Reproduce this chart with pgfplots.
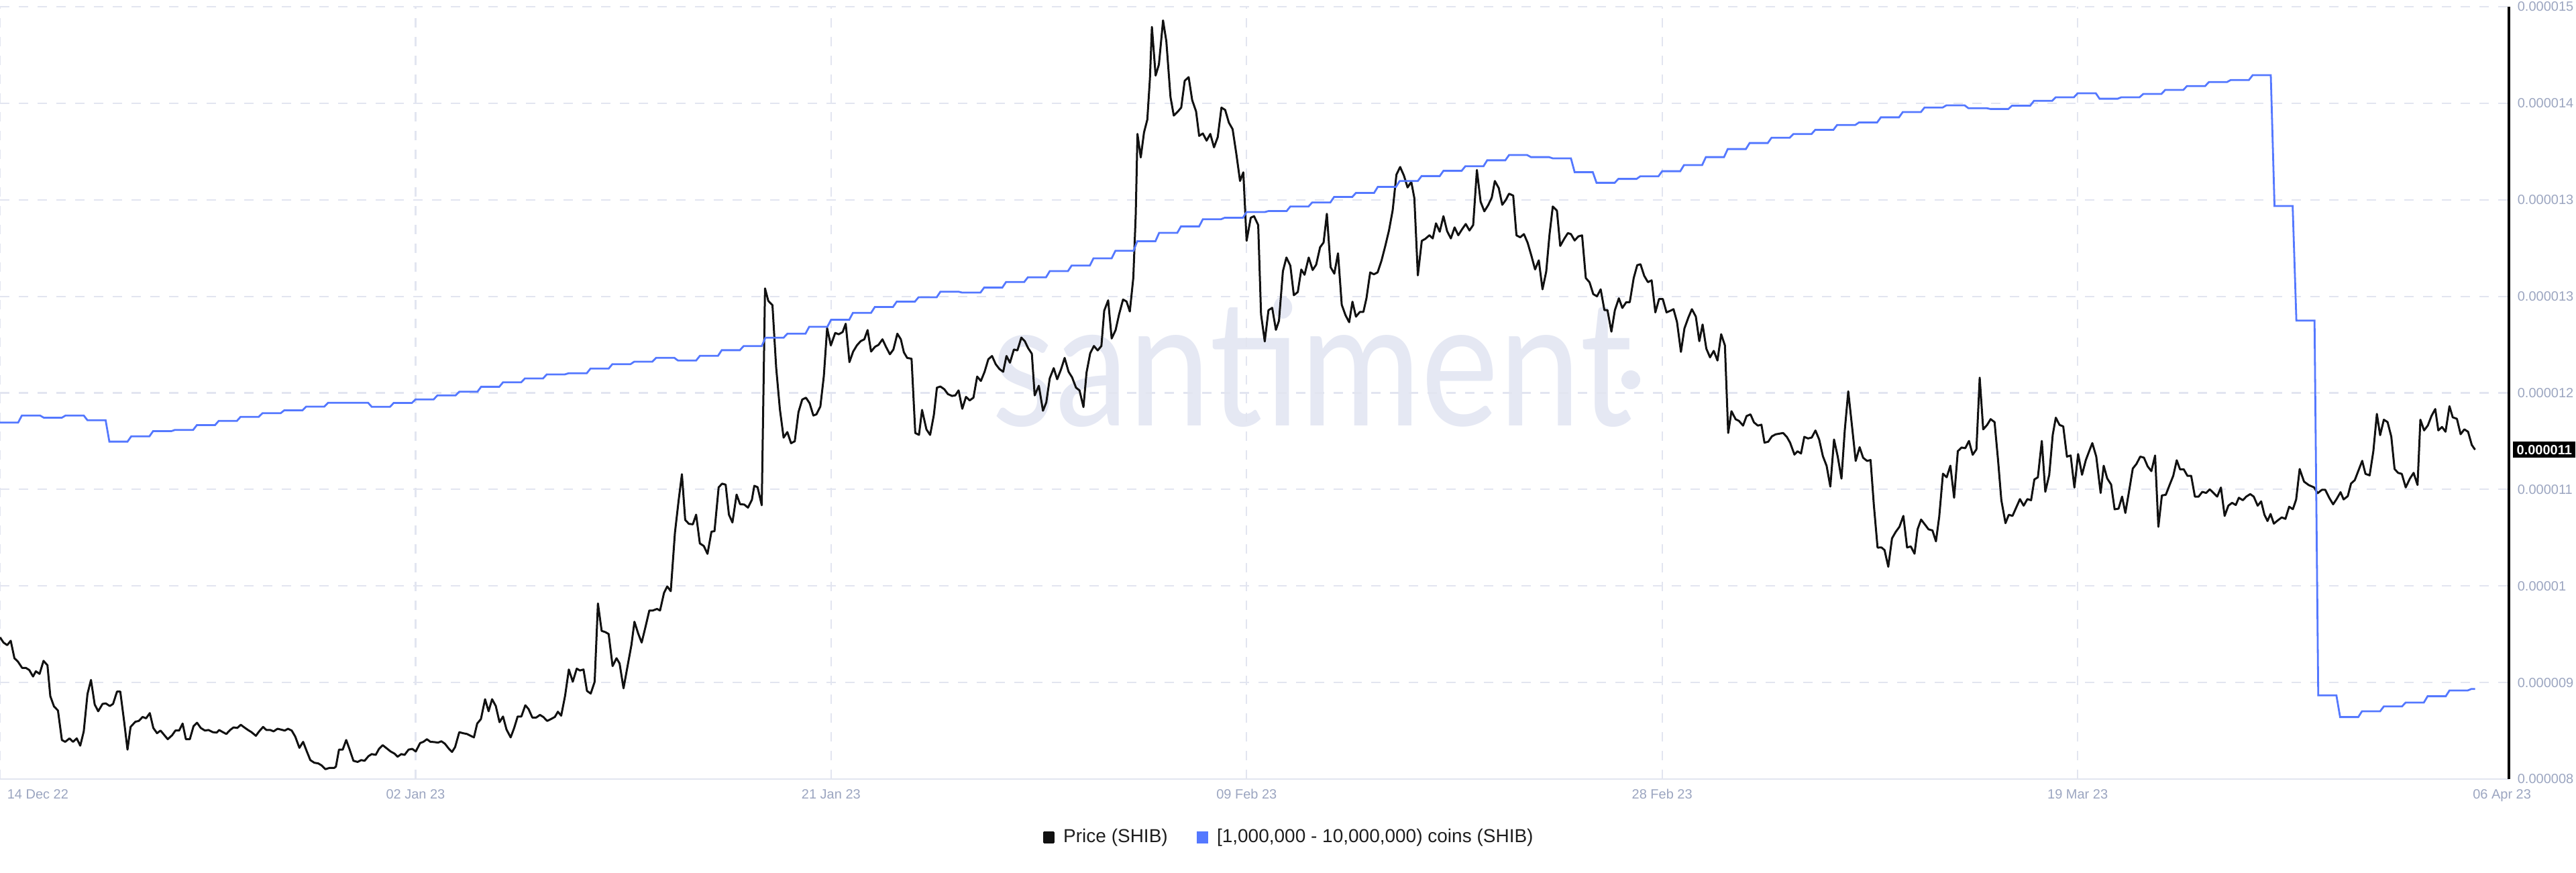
\documentclass[border=0pt]{standalone}
\usepackage{pgfplots}
\pgfplotsset{compat=1.18}
\usepackage{fontspec}
\setmainfont{Liberation Sans}
\newfontfamily\wmfont{Lato}
\definecolor{pricecol}{RGB}{17,17,17}
\definecolor{holdcol}{RGB}{84,120,255}
\definecolor{gridcol}{RGB}{226,229,240}
\definecolor{tickcol}{RGB}{155,165,192}
\definecolor{wmcol}{RGB}{229,232,243}
\definecolor{legtext}{RGB}{30,30,30}
\begin{document}
\begin{tikzpicture}
\path[use as bounding box] (0pt,0pt) rectangle (960pt,325pt);
% watermark (behind the series)
\node[anchor=base west, inner sep=0pt, text=wmcol, xscale=0.835,
      font=\wmfont\fontsize{65.6}{70}\selectfont] at (369.5pt,166.5pt) {santiment};
\fill[wmcol] (607.75pt,183.5pt) circle (3.5pt);
\begin{axis}[
  at={(0pt,34.75pt)}, anchor=south west,
  width=935pt, height=287.75pt, scale only axis,
  xmin=0, xmax=114.72, ymin=8.35, ymax=15.15,
  axis x line*=bottom, axis y line*=right,
  x axis line style={-, draw=gridcol, line width=0.6pt},
  y axis line style={-, draw=black, line width=1pt},
  major tick length=0pt, tick style={draw=none},
  xtick={0,19,38,57,76,95},
  xticklabels={,02 Jan 23,21 Jan 23,09 Feb 23,28 Feb 23,19 Mar 23},
  xticklabel style={anchor=base, inner sep=0pt, yshift=-7.4pt, text=tickcol, font=\fontsize{5}{6}\selectfont},
  ytick={8.35,9.2,10.05,10.9,11.75,12.6,13.45,14.3,15.15},
  yticklabels={0.000008,0.000009,0.00001,0.000011,0.000012,0.000013,0.000013,0.000014,0.000015},
  yticklabel style={anchor=west, inner sep=0pt, xshift=3pt, text=tickcol, font=\fontsize{5}{6}\selectfont},
  xmajorgrids, ymajorgrids,
  major grid style={draw=gridcol, dash pattern=on 3.5pt off 3.5pt, line width=0.55pt},
  clip=false,
  legend style={at={(0.5134,-0.0756)}, anchor=center, draw=none, fill=none,
    font=\fontsize{7}{8}\selectfont, text=legtext, legend columns=2,
    nodes={inner sep=0pt},
    /tikz/every odd column/.append style={column sep=3.2pt},
    /tikz/every even column/.append style={column sep=10.7pt}},
]
\addplot[pricecol, line width=0.75pt, no marks, line join=round,
  legend image code/.code={\fill[pricecol] (0pt,-1.85pt) rectangle (3.7pt,1.85pt);}]
coordinates {
(0.00,9.598)(0.16,9.552)(0.33,9.529)(0.49,9.568)(0.66,9.414)(0.82,9.384)(1.01,9.329)(1.18,9.329)(1.34,9.310)(1.51,9.253)(1.64,9.299)(1.81,9.276)(1.99,9.391)(2.17,9.352)(2.30,9.080)(2.47,8.989)(2.65,8.954)(2.83,8.694)(2.98,8.678)(3.18,8.708)(3.34,8.678)(3.51,8.708)(3.67,8.644)(3.83,8.770)(4.00,9.099)(4.16,9.223)(4.33,9.007)(4.49,8.947)(4.69,9.012)(4.84,9.016)(5.02,8.993)(5.17,9.012)(5.35,9.120)(5.50,9.120)(5.68,8.851)(5.83,8.609)(5.97,8.809)(6.19,8.855)(6.35,8.862)(6.52,8.897)(6.68,8.885)(6.85,8.931)(7.01,8.800)(7.18,8.754)(7.34,8.777)(7.50,8.740)(7.67,8.701)(7.87,8.736)(8.02,8.777)(8.19,8.777)(8.35,8.839)(8.50,8.701)(8.68,8.701)(8.85,8.816)(9.01,8.846)(9.18,8.800)(9.37,8.777)(9.53,8.782)(9.73,8.763)(9.91,8.759)(10.02,8.782)(10.19,8.763)(10.35,8.747)(10.52,8.782)(10.68,8.805)(10.85,8.800)(11.01,8.828)(11.17,8.805)(11.34,8.782)(11.50,8.763)(11.70,8.731)(11.85,8.770)(12.03,8.809)(12.18,8.782)(12.36,8.782)(12.51,8.770)(12.69,8.793)(12.84,8.786)(13.02,8.777)(13.17,8.793)(13.34,8.777)(13.50,8.724)(13.69,8.625)(13.86,8.678)(14.02,8.598)(14.19,8.517)(14.37,8.494)(14.55,8.488)(14.70,8.471)(14.88,8.437)(15.06,8.448)(15.28,8.448)(15.36,8.460)(15.50,8.609)(15.67,8.609)(15.83,8.694)(15.99,8.609)(16.16,8.511)(16.35,8.501)(16.52,8.517)(16.67,8.511)(16.85,8.552)(17.00,8.570)(17.18,8.563)
(17.33,8.616)(17.50,8.648)(17.68,8.621)(17.86,8.593)(18.03,8.575)(18.18,8.547)(18.35,8.570)(18.50,8.563)(18.68,8.609)(18.85,8.616)(19.01,8.593)(19.21,8.667)(19.36,8.678)(19.52,8.701)(19.68,8.678)(19.85,8.676)(20.03,8.671)(20.18,8.683)(20.34,8.662)(20.53,8.616)(20.67,8.589)(20.81,8.632)(21.00,8.763)(21.17,8.754)(21.35,8.747)(21.52,8.731)(21.67,8.717)(21.82,8.839)(21.99,8.878)(22.18,9.053)(22.34,8.947)(22.50,9.053)(22.67,8.993)(22.84,8.851)(23.00,8.901)(23.16,8.786)(23.35,8.717)(23.51,8.800)(23.67,8.901)(23.84,8.901)(24.02,9.000)(24.17,8.966)(24.34,8.892)(24.52,8.892)(24.69,8.915)(24.84,8.897)(25.02,8.862)(25.19,8.878)(25.37,8.897)(25.51,8.943)(25.66,8.908)(25.84,9.085)(26.01,9.315)(26.19,9.207)(26.37,9.322)(26.52,9.306)(26.68,9.315)(26.84,9.126)(27.01,9.103)(27.19,9.207)(27.34,9.896)(27.51,9.655)(27.69,9.643)(27.83,9.627)(28.01,9.345)(28.19,9.414)(28.33,9.368)(28.51,9.149)(28.68,9.329)(28.87,9.529)(29.01,9.735)(29.18,9.632)(29.34,9.552)(29.50,9.678)(29.69,9.834)(29.85,9.834)(30.04,9.848)(30.18,9.834)(30.36,9.988)(30.51,10.046)(30.67,10.004)(30.86,10.517)(31.03,10.804)(31.18,11.034)(31.33,10.632)(31.50,10.597)(31.68,10.593)(31.83,10.678)(32.00,10.425)(32.18,10.402)(32.35,10.333)(32.53,10.528)(32.67,10.533)(32.86,10.919)(33.02,10.951)(33.18,10.942)(33.33,10.678)(33.49,10.609)(33.68,10.855)(33.84,10.770)(34.03,10.767)(34.20,10.740)(34.38,10.809)
(34.49,10.932)(34.64,10.920)(34.83,10.761)(34.98,12.670)(35.13,12.560)(35.32,12.523)(35.49,11.972)(35.66,11.605)(35.83,11.356)(36.00,11.405)(36.17,11.307)(36.34,11.324)(36.51,11.581)(36.68,11.691)(36.85,11.708)(37.02,11.659)(37.19,11.551)(37.33,11.561)(37.51,11.630)(37.67,11.899)(37.82,12.320)(37.99,12.168)(38.19,12.278)(38.35,12.266)(38.53,12.286)(38.67,12.359)(38.84,12.021)(39.01,12.114)(39.18,12.168)(39.35,12.205)(39.52,12.222)(39.67,12.303)(39.83,12.114)(40.01,12.156)(40.17,12.173)(40.35,12.222)(40.51,12.156)(40.69,12.090)(40.85,12.132)(41.03,12.271)(41.19,12.222)(41.33,12.107)(41.48,12.058)(41.68,12.051)(41.85,11.397)(42.02,11.380)(42.16,11.600)(42.36,11.429)(42.53,11.380)(42.70,11.556)(42.84,11.796)(43.00,11.806)(43.18,11.782)(43.34,11.740)(43.53,11.723)(43.68,11.728)(43.83,11.772)(44.00,11.610)(44.17,11.715)(44.34,11.684)(44.51,11.708)(44.68,11.894)(44.85,11.855)(45.02,11.936)(45.19,12.046)(45.36,12.075)(45.53,12.002)(45.70,11.960)(45.87,11.936)(46.02,12.075)(46.18,12.016)(46.36,12.132)(46.52,12.124)(46.70,12.237)(46.86,12.205)(47.01,12.144)(47.18,12.095)(47.31,11.728)(47.50,11.813)(47.69,11.593)(47.84,11.666)(48.00,11.879)(48.18,11.968)(48.34,11.870)(48.52,11.960)(48.68,12.058)(48.86,11.936)(49.02,11.887)(49.20,11.796)(49.36,11.772)(49.54,11.625)(49.68,11.928)(49.85,12.100)(50.02,12.163)(50.19,12.124)(50.36,12.163)(50.49,12.474)(50.67,12.565)(50.83,12.229)(51.01,12.303)(51.17,12.442)(51.35,12.572)(51.51,12.555)(51.66,12.467)
(51.82,12.764)(51.93,13.317)(52.01,14.030)(52.16,13.823)(52.31,14.044)(52.46,14.156)(52.58,14.519)(52.67,14.972)(52.84,14.544)(52.99,14.641)(53.18,15.029)(53.33,14.846)(53.52,14.355)(53.67,14.192)(53.86,14.228)(54.01,14.262)(54.17,14.498)(54.35,14.530)(54.51,14.329)(54.69,14.228)(54.83,14.013)(55.00,14.034)(55.17,13.971)(55.34,14.030)(55.51,13.912)(55.68,14.002)(55.85,14.262)(56.02,14.241)(56.19,14.129)(56.36,14.072)(56.53,13.855)(56.70,13.616)(56.85,13.692)(57.00,13.089)(57.19,13.292)(57.34,13.306)(57.53,13.228)(57.66,12.442)(57.83,12.203)(58.00,12.478)(58.17,12.499)(58.34,12.305)(58.48,12.385)(58.66,12.821)(58.82,12.942)(59.00,12.870)(59.16,12.610)(59.34,12.638)(59.50,12.836)(59.65,12.790)(59.84,12.942)(60.02,12.832)(60.18,12.878)(60.36,13.032)(60.52,13.074)(60.67,13.327)(60.84,12.857)(61.01,12.800)(61.18,12.979)(61.35,12.526)(61.52,12.435)(61.69,12.372)(61.84,12.553)(62.00,12.421)(62.18,12.463)(62.34,12.463)(62.48,12.583)(62.65,12.811)(62.82,12.794)(62.99,12.811)(63.17,12.916)(63.34,13.043)(63.51,13.180)(63.68,13.359)(63.85,13.671)(64.02,13.739)(64.19,13.665)(64.36,13.559)(64.53,13.608)(64.67,13.465)(64.83,12.785)(65.01,13.089)(65.17,13.106)(65.36,13.138)(65.51,13.110)(65.66,13.243)(65.83,13.169)(66.00,13.306)(66.17,13.173)(66.34,13.110)(66.51,13.207)(66.68,13.138)(66.85,13.190)(67.02,13.237)(67.19,13.180)(67.36,13.228)(67.53,13.713)(67.70,13.433)(67.87,13.349)(68.04,13.401)(68.21,13.469)(68.35,13.616)(68.53,13.553)(68.69,13.406)
(68.85,13.448)(69.00,13.504)(69.19,13.487)(69.34,13.137)(69.51,13.120)(69.68,13.148)(69.85,13.072)(70.02,12.959)(70.19,12.837)(70.36,12.917)(70.53,12.662)(70.70,12.818)(70.85,13.143)(71.00,13.391)(71.19,13.354)(71.34,13.044)(71.53,13.109)(71.69,13.157)(71.83,13.148)(72.00,13.092)(72.17,13.128)(72.34,13.137)(72.51,12.761)(72.68,12.724)(72.85,12.620)(73.02,12.600)(73.19,12.662)(73.36,12.479)(73.50,12.479)(73.68,12.289)(73.84,12.479)(74.02,12.583)(74.18,12.498)(74.36,12.549)(74.52,12.549)(74.70,12.761)(74.86,12.874)(75.01,12.883)(75.18,12.781)(75.35,12.725)(75.52,12.741)(75.69,12.459)(75.86,12.577)(76.03,12.577)(76.20,12.459)(76.34,12.470)(76.52,12.487)(76.68,12.374)(76.86,12.111)(77.02,12.318)(77.20,12.414)(77.36,12.487)(77.54,12.422)(77.70,12.205)(77.85,12.352)(78.02,12.140)(78.19,12.063)(78.36,12.120)(78.53,12.035)(78.70,12.267)(78.87,12.168)(79.02,11.397)(79.17,11.589)(79.36,11.518)(79.51,11.504)(79.70,11.462)(79.86,11.546)(80.04,11.561)(80.20,11.490)(80.38,11.462)(80.54,11.470)(80.68,11.312)(80.85,11.320)(81.02,11.368)(81.19,11.385)(81.36,11.391)(81.53,11.397)(81.70,11.363)(81.85,11.312)(82.05,11.207)(82.19,11.236)(82.35,11.216)(82.50,11.363)(82.67,11.349)(82.84,11.357)(83.01,11.419)(83.18,11.340)(83.35,11.193)(83.52,11.108)(83.69,10.925)(83.86,11.340)(84.03,11.188)(84.20,10.995)(84.35,11.419)(84.51,11.764)(84.69,11.442)(84.85,11.151)(85.03,11.272)(85.19,11.179)(85.37,11.151)(85.53,11.159)(85.68,10.764)(85.85,10.388)
(86.03,10.389)(86.17,10.366)(86.34,10.219)(86.51,10.469)(86.68,10.526)(86.85,10.571)(87.03,10.667)(87.20,10.389)(87.37,10.398)(87.54,10.334)(87.68,10.549)(87.84,10.635)(88.02,10.590)(88.18,10.549)(88.36,10.539)(88.52,10.443)(88.67,10.661)(88.84,11.039)(89.01,11.007)(89.18,11.109)(89.35,10.827)(89.52,11.237)(89.69,11.269)(89.86,11.263)(90.03,11.327)(90.20,11.205)(90.37,11.253)(90.52,11.884)(90.68,11.429)(90.86,11.468)(91.02,11.519)(91.20,11.493)(91.36,11.157)(91.51,10.805)(91.70,10.603)(91.85,10.677)(92.02,10.667)(92.19,10.741)(92.36,10.815)(92.53,10.757)(92.70,10.815)(92.87,10.805)(93.02,10.988)(93.18,11.007)(93.36,11.327)(93.52,10.879)(93.70,11.029)(93.86,11.381)(94.00,11.532)(94.17,11.468)(94.34,11.455)(94.51,11.189)(94.68,11.199)(94.85,10.917)(95.02,11.212)(95.20,11.029)(95.37,11.157)(95.54,11.244)(95.67,11.308)(95.85,11.189)(96.05,10.869)(96.19,11.109)(96.35,10.997)(96.53,10.943)(96.69,10.725)(96.87,10.731)(97.03,10.837)(97.18,10.693)(97.35,10.885)(97.52,11.084)(97.69,11.125)(97.86,11.189)(98.03,11.180)(98.20,11.103)(98.37,11.061)(98.54,11.199)(98.69,10.571)(98.85,10.847)(99.03,10.853)(99.19,10.933)(99.37,11.020)(99.53,11.157)(99.68,11.077)(99.85,11.077)(100.02,11.020)(100.19,11.020)(100.36,10.837)(100.53,10.837)(100.70,10.879)(100.87,10.869)(101.04,10.901)(101.21,10.869)(101.38,10.837)(101.55,10.917)(101.72,10.667)(101.89,10.757)(102.06,10.782)(102.23,10.763)(102.37,10.827)(102.55,10.805)(102.71,10.837)(102.89,10.859)(103.05,10.837)(103.23,10.757)(103.39,10.795)(103.54,10.677)(103.68,10.622)
(103.82,10.684)(103.97,10.599)(104.16,10.629)(104.33,10.654)(104.50,10.641)(104.67,10.748)(104.84,10.726)(104.99,10.812)(105.15,11.080)(105.35,10.969)(105.56,10.939)(105.81,10.918)(105.97,10.867)(106.17,10.897)(106.32,10.897)(106.51,10.824)(106.68,10.769)(106.83,10.812)(107.02,10.876)(107.16,10.812)(107.35,10.841)(107.50,10.952)(107.67,10.982)(107.84,11.067)(108.01,11.152)(108.16,11.037)(108.35,11.024)(108.52,11.237)(108.68,11.565)(108.83,11.378)(109.00,11.514)(109.17,11.493)(109.34,11.365)(109.49,11.080)(109.65,11.046)(109.82,11.037)(110.00,10.918)(110.19,10.995)(110.36,11.046)(110.54,10.939)(110.67,11.514)(110.84,11.420)(111.01,11.463)(111.18,11.548)(111.35,11.608)(111.49,11.420)(111.66,11.450)(111.82,11.408)(112.00,11.633)(112.15,11.535)(112.34,11.522)(112.51,11.386)(112.68,11.429)(112.85,11.408)(113.02,11.292)(113.17,11.250)
};
\addlegendentry{Price (SHIB)}
\addplot[holdcol, line width=0.7pt, no marks,
  legend image code/.code={\fill[holdcol] (0pt,-1.85pt) rectangle (3.7pt,1.85pt);}]
coordinates {
(0,11.489)(0.83,11.489)(1,11.551)(1.83,11.551)(2,11.532)(2.83,11.532)(3,11.551)(3.83,11.551)
(4,11.509)(4.83,11.509)(5,11.321)(5.83,11.321)(6,11.367)(6.83,11.367)(7,11.413)(7.83,11.413)
(8,11.424)(8.83,11.424)(9,11.466)(9.83,11.466)(10,11.503)(10.83,11.503)(11,11.539)(11.83,11.539)
(12,11.571)(12.83,11.571)(13,11.597)(13.83,11.597)(14,11.629)(14.83,11.629)(15,11.663)(15.83,11.663)
(16,11.663)(16.83,11.663)(17,11.627)(17.83,11.627)(18,11.661)(18.83,11.661)(19,11.693)(19.83,11.693)
(20,11.728)(20.83,11.728)(21,11.760)(21.83,11.760)(22,11.804)(22.83,11.804)(23,11.843)(23.83,11.843)
(24,11.877)(24.83,11.877)(25,11.913)(25.83,11.913)(26,11.923)(26.83,11.923)(27,11.964)(27.83,11.964)
(28,12.003)(28.83,12.003)(29,12.025)(29.83,12.025)(30,12.059)(30.83,12.059)(31,12.035)(31.83,12.035)
(32,12.076)(32.83,12.076)(33,12.126)(33.83,12.126)(34,12.162)(34.83,12.162)(35,12.236)(35.83,12.236)
(36,12.271)(36.83,12.271)(37,12.332)(37.83,12.332)(38,12.394)(38.83,12.394)(39,12.455)(39.83,12.455)
(40,12.506)(40.83,12.506)(41,12.553)(41.83,12.553)(42,12.592)(42.83,12.592)(43,12.641)(43.83,12.641)
(44,12.633)(44.83,12.633)(45,12.677)(45.83,12.677)(46,12.726)(46.83,12.726)(47,12.768)(47.83,12.768)
(48,12.822)(48.83,12.822)(49,12.871)(49.83,12.871)(50,12.935)(50.83,12.935)(51,13.001)(51.83,13.001)
(52,13.085)(52.83,13.085)(53,13.159)(53.83,13.159)(54,13.216)(54.83,13.216)(55,13.279)(55.83,13.279)
(56,13.292)(56.83,13.292)(57,13.342)(57.83,13.342)(58,13.351)(58.83,13.351)(59,13.391)(59.83,13.391)
(60,13.427)(60.83,13.427)(61,13.475)(61.83,13.475)(62,13.511)(62.83,13.511)(63,13.564)(63.83,13.564)
(64,13.616)(64.83,13.616)(65,13.659)(65.83,13.659)(66,13.705)(66.83,13.705)(67,13.745)(67.83,13.745)
(68,13.798)(68.83,13.798)(69,13.844)(69.83,13.844)(70,13.826)(70.83,13.826)(71,13.815)(71.83,13.815)
(72,13.693)(72.83,13.693)(73,13.600)(73.83,13.600)(74,13.634)(74.83,13.634)(75,13.657)(75.83,13.657)
(76,13.702)(76.83,13.702)(77,13.756)(77.83,13.756)(78,13.826)(78.83,13.826)(79,13.897)(79.83,13.897)
(80,13.950)(80.83,13.950)(81,13.996)(81.83,13.996)(82,14.029)(82.83,14.029)(83,14.066)(83.83,14.066)
(84,14.109)(84.83,14.109)(85,14.131)(85.83,14.131)(86,14.176)(86.83,14.176)(87,14.222)(87.83,14.222)
(88,14.263)(88.83,14.263)(89,14.282)(89.83,14.282)(90,14.257)(90.83,14.257)(91,14.250)(91.83,14.250)
(92,14.279)(92.83,14.279)(93,14.321)(93.83,14.321)(94,14.353)(94.83,14.353)(95,14.388)(95.83,14.388)
(96,14.340)(96.83,14.340)(97,14.353)(97.83,14.353)(98,14.382)(98.83,14.382)(99,14.417)(99.83,14.417)
(100,14.452)(100.83,14.452)(101,14.487)(101.83,14.487)(102,14.505)(102.83,14.505)(103,14.547)(103.83,14.547)
(104,13.396)(104.83,13.396)(105,12.387)(105.83,12.387)(106,9.087)(106.83,9.087)(107,8.896)(107.83,8.896)
(108,8.947)(108.83,8.947)(109,8.990)(109.83,8.990)(110,9.024)(110.83,9.024)(111,9.079)(111.83,9.079)
(112,9.130)(112.83,9.130)(113,9.143)(113.17,9.143)
};
\addlegendentry{{[}1,000,000 - 10,000,000) coins (SHIB)}
\node[anchor=base west, inner sep=0pt, text=tickcol, font=\fontsize{5}{6}\selectfont, xshift=2.5pt, yshift=-7.4pt] at (axis cs:0,8.35) {14 Dec 22};
\node[anchor=base, inner sep=0pt, text=tickcol, font=\fontsize{5}{6}\selectfont, yshift=-7.4pt] at (axis cs:114.4,8.35) {06 Apr 23};
\node[anchor=west, fill=black, text=white, inner xsep=1.3pt, inner ysep=1.2pt, xshift=1.4pt,
      font=\fontsize{5}{6}\selectfont\bfseries] at (axis cs:114.72,11.25) {0.000011};
\end{axis}
\end{tikzpicture}
\end{document}
